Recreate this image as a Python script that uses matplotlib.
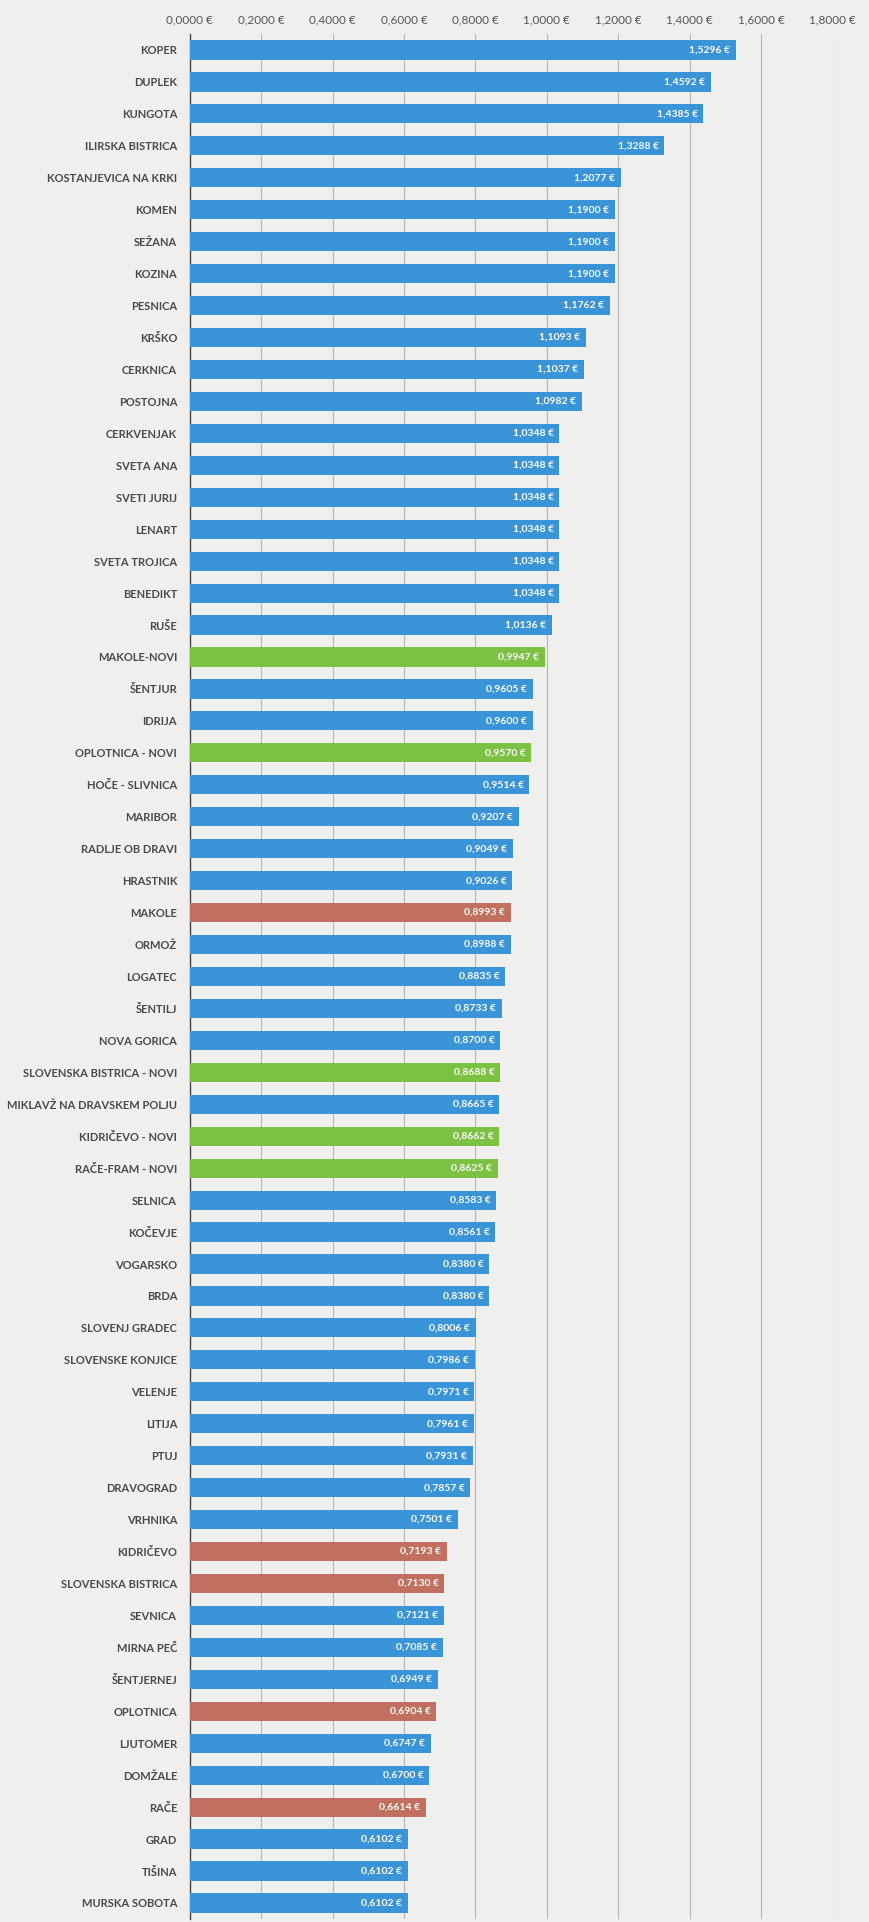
import numpy as np
import matplotlib.pyplot as plt

# Cena na enoto po občinah (EUR)
obcine = [
    "KOPER", "DUPLEK", "KUNGOTA", "ILIRSKA BISTRICA", "KOSTANJEVICA NA KRKI",
    "KOMEN", "SEŽANA", "KOZINA", "PESNICA", "KRŠKO", "CERKNICA", "POSTOJNA",
    "CERKVENJAK", "SVETA ANA", "SVETI JURIJ", "LENART", "SVETA TROJICA",
    "BENEDIKT", "RUŠE", "MAKOLE-NOVI", "ŠENTJUR", "IDRIJA", "OPLOTNICA - NOVI",
    "HOČE - SLIVNICA", "MARIBOR", "RADLJE OB DRAVI", "HRASTNIK", "MAKOLE",
    "ORMOŽ", "LOGATEC", "ŠENTILJ", "NOVA GORICA", "SLOVENSKA BISTRICA - NOVI",
    "MIKLAVŽ NA DRAVSKEM POLJU", "KIDRIČEVO - NOVI", "RAČE-FRAM - NOVI",
    "SELNICA", "KOČEVJE", "VOGARSKO", "BRDA", "SLOVENJ GRADEC",
    "SLOVENSKE KONJICE", "VELENJE", "LITIJA", "PTUJ", "DRAVOGRAD", "VRHNIKA",
    "KIDRIČEVO", "SLOVENSKA BISTRICA", "SEVNICA", "MIRNA PEČ", "ŠENTJERNEJ",
    "OPLOTNICA", "LJUTOMER", "DOMŽALE", "RAČE", "GRAD", "TIŠINA",
    "MURSKA SOBOTA",
]
cene = [
    1.5296, 1.4592, 1.4385, 1.3288, 1.2077,
    1.1900, 1.1900, 1.1900, 1.1762, 1.1093, 1.1037, 1.0982,
    1.0348, 1.0348, 1.0348, 1.0348, 1.0348,
    1.0348, 1.0136, 0.9947, 0.9605, 0.9600, 0.9570,
    0.9514, 0.9207, 0.9049, 0.9026, 0.8993,
    0.8988, 0.8835, 0.8733, 0.8700, 0.8688,
    0.8665, 0.8662, 0.8625,
    0.8583, 0.8561, 0.8380, 0.8380, 0.8006,
    0.7986, 0.7971, 0.7961, 0.7931, 0.7857, 0.7501,
    0.7193, 0.7130, 0.7121, 0.7085, 0.6949,
    0.6904, 0.6747, 0.6700, 0.6614, 0.6102, 0.6102,
    0.6102,
]
# skupina: novi = nova cena, stari = dosedanja cena, ostali = druge občine
novi = ["MAKOLE-NOVI", "OPLOTNICA - NOVI", "SLOVENSKA BISTRICA - NOVI",
        "KIDRIČEVO - NOVI", "RAČE-FRAM - NOVI"]
stari = ["MAKOLE", "KIDRIČEVO", "SLOVENSKA BISTRICA", "OPLOTNICA", "RAČE"]
os_ticks = [0.0, 0.2, 0.4, 0.6, 0.8, 1.0, 1.2, 1.4, 1.6, 1.8]

barve = {"ostali": "#3a94d8", "novi": "#7cc242", "stari": "#c1705f"}
plt.rcParams['font.family'] = ["Lato", "DejaVu Sans"]

skupine = ["novi" if o in novi else "stari" if o in stari else "ostali"
           for o in obcine]
y = np.arange(len(obcine))

fig = plt.figure(figsize=(8.7, 19.22), dpi=100, facecolor="#efefed")
ax = fig.add_axes([0.218, 0.0016, 0.739, 0.9807])
ax.set_facecolor("#efefed")

ax.barh(y, cene, height=0.6, color=[barve[s] for s in skupine], zorder=3)

for yi, v in zip(y, cene):
    ax.annotate(f"{v:.4f}".replace(".", ",") + " €", xy=(v, yi),
                xytext=(-4, 0), textcoords="offset points",
                ha="right", va="center", color="white", fontsize=7.5,
                fontweight="bold", zorder=4)

ax.set_xlim(0, 1.8)
ax.set_ylim(len(obcine) - 0.5, -0.5)
ax.set_xticks(os_ticks)
ax.set_xticklabels([f"{t:.4f}".replace(".", ",") + " €" for t in os_ticks],
                   fontsize=8.5, color="#555555")
ax.xaxis.tick_top()
ax.tick_params(axis="x", length=0, pad=6)
ax.set_yticks(y)
ax.set_yticklabels(obcine, fontsize=8, fontweight="bold", color="#4a4a4a")
ax.tick_params(axis="y", length=0, pad=9)

for t in os_ticks[1:]:
    ax.axvline(t, color="#b5b5b5", lw=0.8, zorder=1)

for side in ["top", "right", "bottom"]:
    ax.spines[side].set_visible(False)
ax.spines["left"].set_color("#444444")
ax.spines["left"].set_linewidth(1.0)

fig.savefig("out.png", dpi=100, facecolor=fig.get_facecolor())
